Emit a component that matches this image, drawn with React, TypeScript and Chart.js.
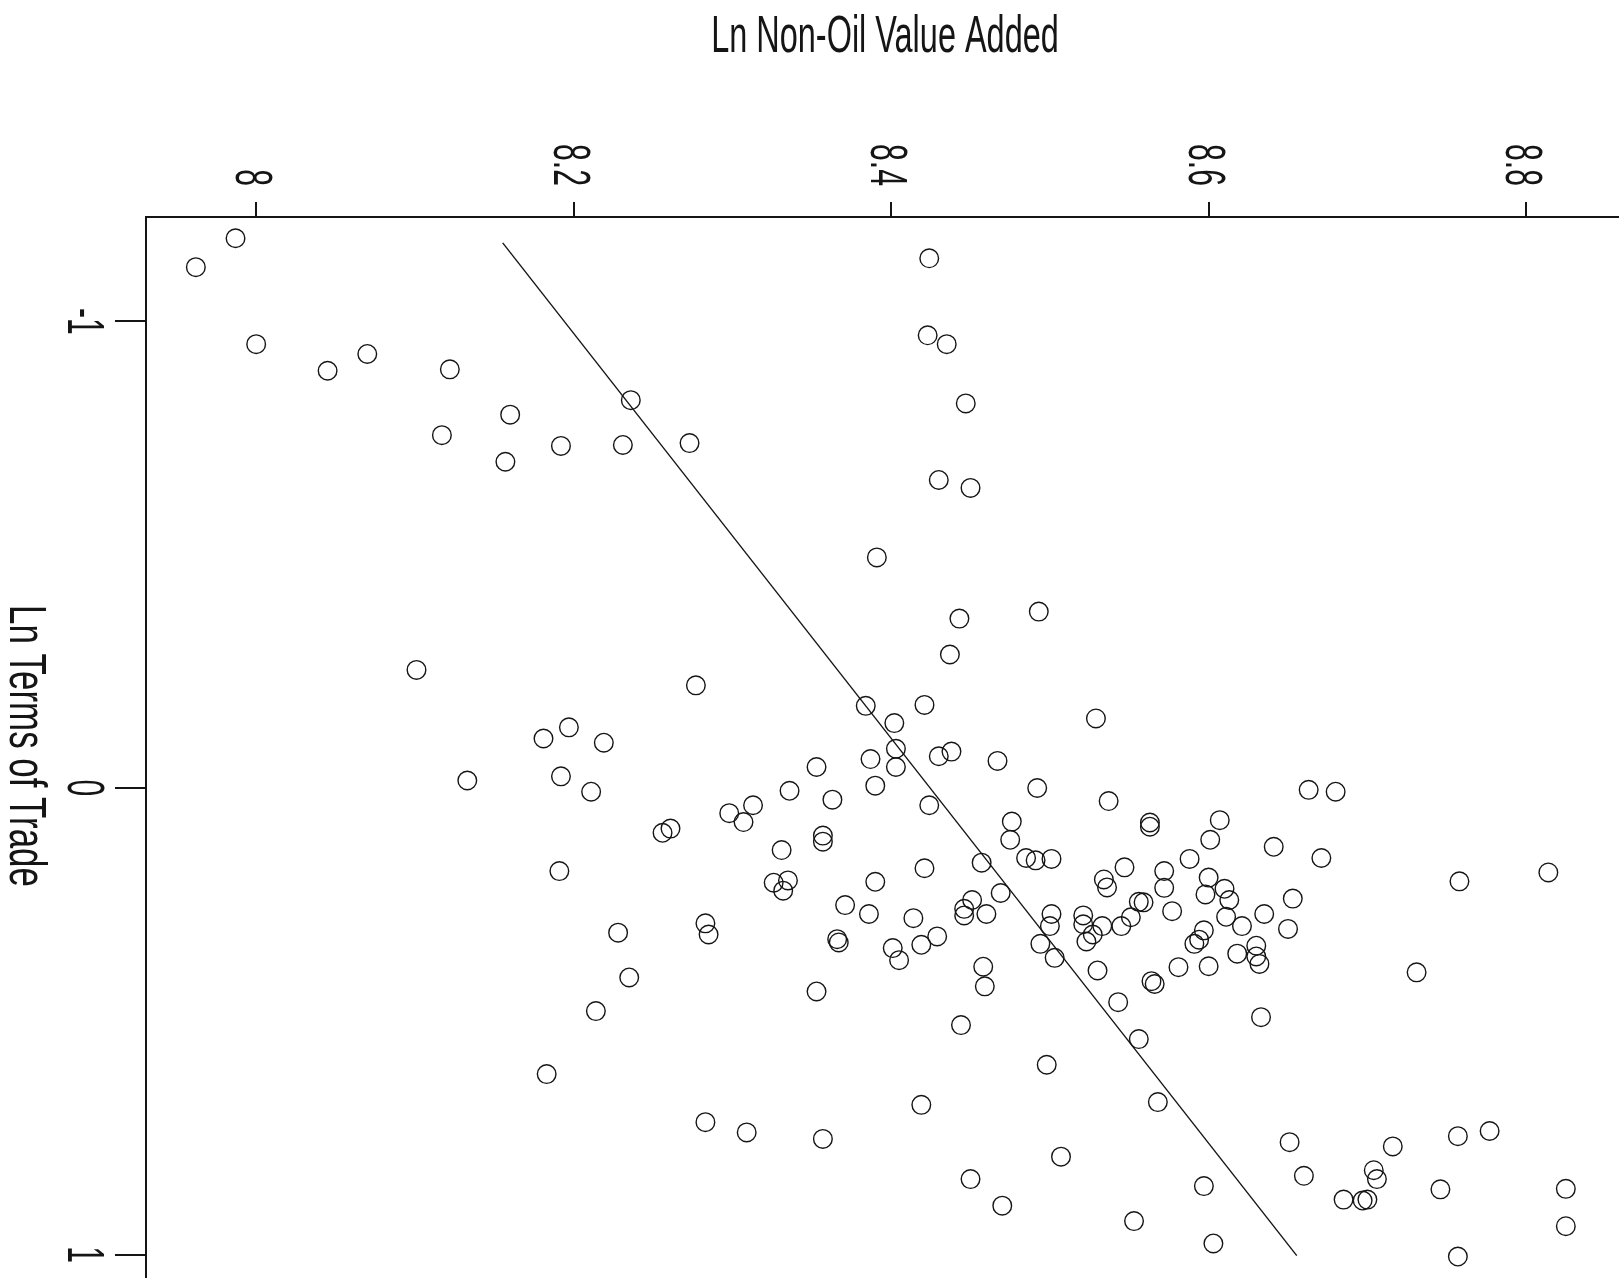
import React, { useEffect, useRef } from "react";
import { Chart, registerables } from "chart.js";

Chart.register(...registerables);

// ---------- data ----------
const xAxisTitle = "Ln Non-Oil Value Added";
const yAxisTitle = "Ln Terms of Trade";
const xTickValues = [8, 8.2, 8.4, 8.6, 8.8];
const xTickLabels = ["8", "8.2", "8.4", "8.6", "8.8"];
const yTickValues = [-1, 0, 1];
const yTickLabels = ["-1", "0", "1"];

// Ln Non-Oil Value Added (horizontal, top axis)
const lnNonOilVA = [
  7.987, 7.962, 8.0, 8.045, 8.07, 8.122, 8.236, 8.16, 8.117, 8.157, 8.192, 8.231,
  8.101, 8.181, 8.197, 8.219, 8.424, 8.423, 8.435, 8.447, 8.273, 8.43, 8.45, 8.391,
  8.443, 8.493, 8.437, 8.277, 8.384, 8.421, 8.529, 8.402, 8.403, 8.387, 8.43, 8.438,
  8.467, 8.353, 8.403, 8.492, 8.537, 8.336, 8.363, 8.39, 8.424, 8.313, 8.298, 8.307,
  8.261, 8.256, 8.476, 8.475, 8.357, 8.357, 8.331, 8.457, 8.485, 8.491, 8.501, 8.421,
  8.534, 8.547, 8.536, 8.326, 8.335, 8.332, 8.39, 8.469, 8.283, 8.285, 8.371, 8.386,
  8.414, 8.451, 8.446, 8.446, 8.46, 8.501, 8.5, 8.521, 8.521, 8.533, 8.545, 8.366,
  8.367, 8.401, 8.405, 8.419, 8.429, 8.494, 8.503, 8.523, 8.527, 8.53, 8.458, 8.459,
  8.353, 8.543, 8.444, 8.498, 8.419, 8.283, 8.309, 8.357, 8.507, 8.45, 8.47, 8.663,
  8.68, 8.563, 8.563, 8.607, 8.601, 8.641, 8.671, 8.588, 8.572, 8.572, 8.6, 8.61,
  8.598, 8.613, 8.556, 8.559, 8.653, 8.577, 8.611, 8.635, 8.551, 8.621, 8.65, 8.597,
  8.594, 8.591, 8.63, 8.618, 8.63, 8.632, 8.581, 8.6, 8.564, 8.566, 8.731, 8.814,
  8.758, 8.633, 8.556, 8.568, 8.651, 8.716, 8.757, 8.777, 8.66, 8.704, 8.706, 8.685,
  8.697, 8.7, 8.746, 8.825, 8.825, 8.597, 8.553, 8.603, 8.757, 8.133, 8.192, 8.211,
  8.191, 8.228, 8.235, 8.214, 8.183,
];

// Ln Terms of Trade (vertical, left axis, -1 at top)
const lnTermsOfTrade = [
  -1.178, -1.116, -0.951, -0.894, -0.93, -0.897, -0.831, -0.8, -0.756, -0.699, -0.733, -0.735,
  -0.253, -0.106, -0.13, -0.097, -1.135, -0.97, -0.951, -0.824, -0.739, -0.66, -0.643, -0.494,
  -0.363, -0.378, -0.286, -0.22, -0.176, -0.178, -0.149, -0.139, -0.084, -0.062, -0.068, -0.078,
  -0.058, -0.045, -0.045, 0.0, 0.028, 0.006, 0.025, -0.005, 0.037, 0.037, 0.054, 0.073,
  0.087, 0.096, 0.072, 0.111, 0.102, 0.115, 0.133, 0.16, 0.15, 0.155, 0.152, 0.172,
  0.196, 0.17, 0.213, 0.203, 0.198, 0.22, 0.201, 0.225, 0.29, 0.314, 0.251, 0.27,
  0.279, 0.24, 0.259, 0.273, 0.27, 0.27, 0.296, 0.273, 0.292, 0.296, 0.296, 0.324,
  0.331, 0.343, 0.369, 0.336, 0.318, 0.334, 0.364, 0.329, 0.314, 0.391, 0.383, 0.425,
  0.436, 0.459, 0.508, 0.593, 0.679, 0.716, 0.738, 0.752, 0.79, 0.838, 0.895, 0.004,
  0.008, 0.074, 0.083, 0.069, 0.111, 0.126, 0.15, 0.152, 0.178, 0.214, 0.192, 0.216,
  0.228, 0.24, 0.244, 0.245, 0.237, 0.264, 0.276, 0.27, 0.277, 0.296, 0.302, 0.305,
  0.325, 0.334, 0.338, 0.355, 0.361, 0.377, 0.384, 0.382, 0.414, 0.42, 0.395, 0.181,
  0.2, 0.491, 0.538, 0.673, 0.759, 0.768, 0.746, 0.735, 0.831, 0.819, 0.838, 0.882,
  0.884, 0.882, 0.86, 0.859, 0.939, 0.853, 0.928, 0.976, 1.004, -0.016, -0.025, 0.008,
  0.178, 0.31, 0.406, 0.478, 0.613,
];

// fitted regression line end points
const fitLineX = [8.1553, 8.6555];
const fitLineY = [-1.168, 1.002];

// axis ranges
const xRange = [7.9306, 8.8585];
const yRange = [-1.2235, 1.05];

const FONT = "'Liberation Sans', Arial, Helvetica, sans-serif";
const INK = "#151515";

const textPlugin = {
  id: "rotatedText",
  afterDraw(chart: any) {
    const ctx: CanvasRenderingContext2D = chart.ctx;
    const xs = chart.scales.x;
    const ys = chart.scales.y;
    ctx.save();
    ctx.fillStyle = INK;
    ctx.font = `52px ${FONT}`;
    ctx.textBaseline = "alphabetic";

    // main title (x-axis title at top)
    ctx.save();
    ctx.translate(885, 52);
    ctx.scale(0.624, 1);
    ctx.textAlign = "center";
    ctx.fillText(xAxisTitle, 0, 0);
    ctx.restore();

    // x tick labels, rotated clockwise
    xs.ticks.forEach((t: any, i: number) => {
      const px = xs.getPixelForValue(t.value);
      ctx.save();
      ctx.translate(px - 20, 186);
      ctx.rotate(Math.PI / 2);
      ctx.scale(0.58, 1);
      ctx.textAlign = "right";
      ctx.fillText(xTickLabels[i], 0, 0);
      ctx.restore();
    });

    // y tick labels, rotated clockwise
    ys.ticks.forEach((t: any, i: number) => {
      const py = ys.getPixelForValue(t.value);
      ctx.save();
      ctx.translate(68, py);
      ctx.rotate(Math.PI / 2);
      ctx.scale(0.58, 1);
      ctx.textAlign = "center";
      ctx.fillText(yTickLabels[i], 0, 0);
      ctx.restore();
    });

    // y axis title
    ctx.save();
    ctx.translate(10, 746);
    ctx.rotate(Math.PI / 2);
    ctx.scale(0.671, 1);
    ctx.textAlign = "center";
    ctx.fillText(yAxisTitle, 0, 0);
    ctx.restore();

    ctx.restore();
  },
};

export default function App() {
  const canvasRef = useRef<HTMLCanvasElement | null>(null);

  useEffect(() => {
    if (!canvasRef.current) return;
    const points = lnNonOilVA.map((x, i) => ({ x, y: lnTermsOfTrade[i] }));
    const fitPoints = fitLineX.map((x, i) => ({ x, y: fitLineY[i] }));

    const chart = new Chart(canvasRef.current, {
      type: "scatter",
      data: {
        datasets: [
          {
            label: "observations",
            data: points,
            pointStyle: "circle",
            pointRadius: 9.3,
            pointHoverRadius: 9.3,
            pointBorderWidth: 1.4,
            pointBackgroundColor: "rgba(0,0,0,0)",
            pointBorderColor: INK,
            showLine: false,
          },
          {
            label: "fit",
            data: fitPoints,
            showLine: true,
            pointRadius: 0,
            borderColor: INK,
            borderWidth: 1.4,
            fill: false,
          } as any,
        ],
      },
      options: {
        animation: false,
        responsive: false,
        devicePixelRatio: 1,
        layout: { padding: 0, autoPadding: false } as any,
        plugins: {
          legend: { display: false },
          tooltip: { enabled: false },
          title: { display: false },
        },
        scales: {
          x: {
            type: "linear",
            position: "top",
            min: xRange[0],
            max: xRange[1],
            afterBuildTicks: (s: any) => {
              s.ticks = xTickValues.map((v) => ({ value: v }));
            },
            afterFit: (s: any) => {
              s.height = 217;
            },
            ticks: { display: false },
            grid: {
              display: true,
              drawOnChartArea: false,
              drawTicks: true,
              tickLength: 15,
              color: INK,
              lineWidth: 2,
            },
            border: { display: true, color: INK, width: 2 },
          },
          y: {
            type: "linear",
            position: "left",
            reverse: true,
            min: yRange[0],
            max: yRange[1],
            afterBuildTicks: (s: any) => {
              s.ticks = yTickValues.map((v) => ({ value: v }));
            },
            afterFit: (s: any) => {
              s.width = 146;
            },
            ticks: { display: false },
            grid: {
              display: true,
              drawOnChartArea: false,
              drawTicks: true,
              tickLength: 31,
              color: INK,
              lineWidth: 2,
            },
            border: { display: true, color: INK, width: 2 },
          },
        },
      },
      plugins: [textPlugin],
    });

    return () => chart.destroy();
  }, []);

  return (
    <div
      style={{
        position: "fixed",
        left: 0,
        top: 0,
        width: 1619,
        height: 1278,
        background: "#ffffff",
      }}
    >
      <canvas ref={canvasRef} width={1619} height={1278} />
    </div>
  );
}
